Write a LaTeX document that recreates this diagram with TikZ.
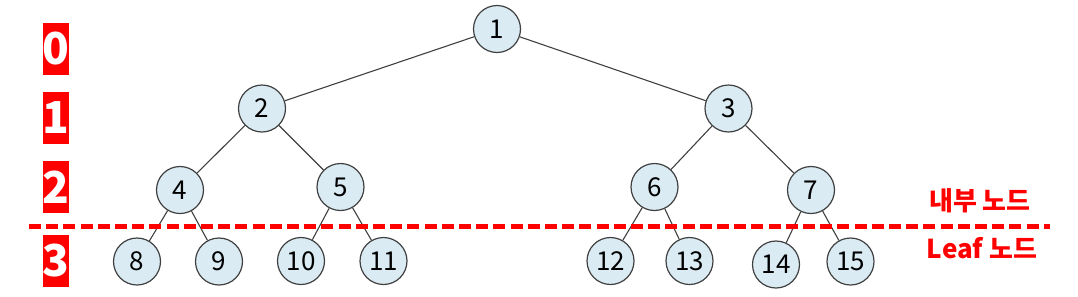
\documentclass[tikz,border=0pt]{standalone}
\usepackage{fontspec}
\setmainfont{Noto Sans CJK KR}
\definecolor{nodefill}{HTML}{DAEBF3}
\definecolor{nodeline}{HTML}{404040}
\definecolor{lvlred}{HTML}{FF0000}
\begin{document}
\begin{tikzpicture}[x=0.5pt,y=-0.5pt,
  tnode/.style={circle,draw=nodeline,fill=nodefill,line width=0.6pt,minimum size=23.5pt,inner sep=0pt,font=\fontsize{13}{13}\selectfont},
  edge/.style={draw=nodeline,line width=0.55pt},
  lvl/.style={fill=lvlred,text=white,minimum width=11.5pt,minimum height=26pt,inner sep=0pt,font=\bfseries\fontsize{22}{22}\selectfont},
  redlabel/.style={text=lvlred,font=\bfseries\fontsize{13}{13}\selectfont,inner sep=0pt}]
\useasboundingbox (0,0) rectangle (1078,296);
% levels
\node[lvl] (l0) at (56,49) {0};
\node[lvl] (l1) at (56,118) {1};
\node[lvl] (l2) at (56,187) {2};
\node[lvl] (l3) at (56,260.5) {3};
% tree nodes
\node[tnode] (n1) at (497,29) {1};
\node[tnode] (n2) at (262,108.5) {2};
\node[tnode] (n3) at (728.5,108.5) {3};
\node[tnode] (n4) at (180,190) {4};
\node[tnode] (n5) at (340.5,187) {5};
\node[tnode] (n6) at (654.5,187) {6};
\node[tnode] (n7) at (811,190) {7};
\node[tnode] (n8) at (137,261.5) {8};
\node[tnode] (n9) at (219,261.5) {9};
\node[tnode] (n10) at (301,261) {10};
\node[tnode] (n11) at (383.5,261) {11};
\node[tnode] (n12) at (610.5,261) {12};
\node[tnode] (n13) at (689.5,261) {13};
\node[tnode] (n14) at (776,264.5) {14};
\node[tnode] (n15) at (850.5,261.5) {15};
% edges
\draw[edge] (n1) -- (n2);
\draw[edge] (n1) -- (n3);
\draw[edge] (n2) -- (n4);
\draw[edge] (n2) -- (n5);
\draw[edge] (n3) -- (n6);
\draw[edge] (n3) -- (n7);
\draw[edge] (n4) -- (n8);
\draw[edge] (n4) -- (n9);
\draw[edge] (n5) -- (n10);
\draw[edge] (n5) -- (n11);
\draw[edge] (n6) -- (n12);
\draw[edge] (n6) -- (n13);
\draw[edge] (n7) -- (n14);
\draw[edge] (n7) -- (n15);
% divider
\coordinate (dl) at (29,226.5);
\coordinate (dr) at (1050,226.5);
\draw[draw=lvlred,line width=2.3pt,dash pattern=on 6pt off 2.6pt] (dl) -- (dr);
% labels
\node[redlabel] (inner) at (980,201) {내부 노드};
\node[redlabel] (leaf) at (982,248) {Leaf 노드};
\end{tikzpicture}
\end{document}
